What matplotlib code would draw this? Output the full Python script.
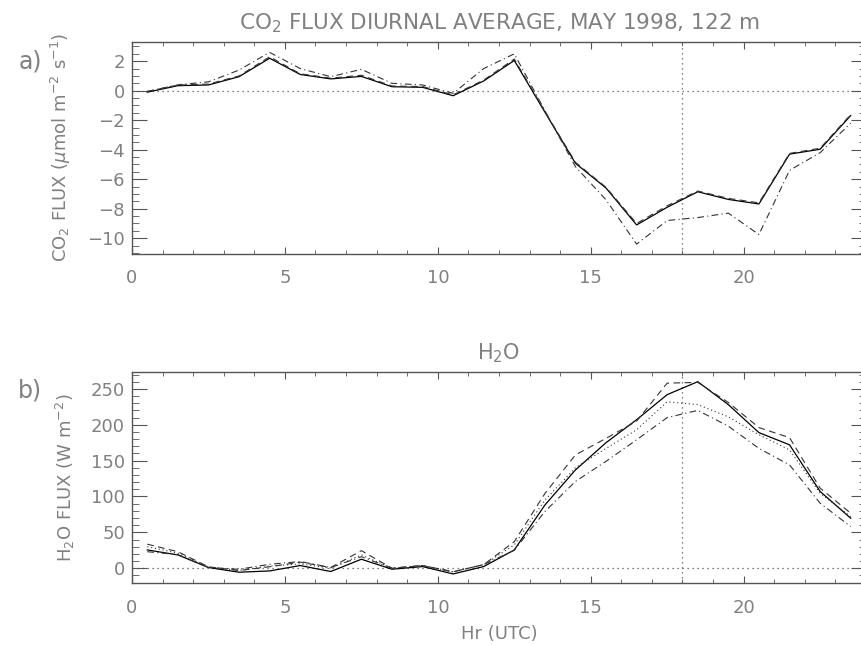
import numpy as np
import matplotlib
matplotlib.use('Agg')
import matplotlib.pyplot as plt
from matplotlib.ticker import MultipleLocator

# hour of day (UTC), centre of each hourly bin
hours = [h + 0.5 for h in range(24)]

# a) CO2 flux, umol m-2 s-1
co2_solid = [-0.1, 0.34, 0.39, 0.95, 2.2, 1.1, 0.8, 0.97, 0.27, 0.23, -0.34, 0.66,
             2.05, -1.45, -4.92, -6.6, -9.1, -7.9, -6.85, -7.37, -7.68, -4.3, -3.97, -1.68]
co2_dash = [-0.05, 0.38, 0.45, 1.0, 2.3, 1.15, 0.85, 1.05, 0.32, 0.28, -0.28, 0.72,
            2.15, -1.4, -4.85, -6.55, -9.0, -7.8, -6.8, -7.3, -7.6, -4.25, -3.9, -1.62]
co2_dashdot = [-0.05, 0.4, 0.6, 1.4, 2.6, 1.5, 0.95, 1.45, 0.5, 0.39, -0.18, 1.5,
               2.5, -1.35, -5.15, -7.4, -10.4, -8.8, -8.6, -8.3, -9.75, -5.4, -4.2, -2.2]

# b) H2O flux, W m-2
h2o_solid = [25.5, 18.5, 1, -5.6, -3.8, 3.7, -4.6, 12.5, -1.4, 2.3, -8, 2.3,
             25.5, 88, 137, 175, 207, 242, 260, 228, 189, 172, 107, 69.7]
h2o_dash = [33.5, 23, 2, -3.3, 2, 8.4, 1, 24.5, 0, 3.7, -5, 5,
            37, 104, 158, 181, 205, 258, 259, 231, 196, 182, 111.6, 76.7]
h2o_dot = [30, 21, 1.5, -3, 3, 6, 0, 18.5, 0, 3.7, -5, 5,
           32.5, 95, 140, 167, 193, 232, 228, 211, 186, 165, 104.6, 72]
h2o_dashdot = [23, 19, 1, -1.5, 5.5, 9.3, 1, 16, 0, 3.7, -5, 5,
               25, 79, 121, 149, 179, 210, 220, 198, 167, 144, 90.6, 58]

TXT = '#808080'
AX = '#555555'
FS = 13

plt.rcParams['font.family'] = 'DejaVu Sans'
plt.rcParams['axes.edgecolor'] = AX
plt.rcParams['axes.linewidth'] = 1.0

fig = plt.figure(figsize=(8.61, 6.45), dpi=100)
ax1 = fig.add_axes([0.1533, 0.6062, 0.8525, 0.3291])
ax2 = fig.add_axes([0.1533, 0.0957, 0.8525, 0.3281])


def style_axis(ax, ymajor, yminor):
    ax.set_xlim(0, 24)
    ax.xaxis.set_major_locator(MultipleLocator(5))
    ax.xaxis.set_minor_locator(MultipleLocator(1))
    ax.yaxis.set_major_locator(MultipleLocator(ymajor))
    ax.yaxis.set_minor_locator(MultipleLocator(yminor))
    ax.tick_params(which='both', direction='in', top=True, right=True,
                   color=AX, labelcolor=TXT, labelsize=FS)
    ax.tick_params(axis='x', which='major', length=5, pad=11)
    ax.tick_params(axis='x', which='minor', length=3)
    ax.tick_params(axis='y', which='major', length=10.5, pad=5)
    ax.tick_params(axis='y', which='minor', length=5)
    # reference lines: zero and 18 UTC
    ax.axhline(0, color=AX, lw=0.9, ls=(0, (1, 3)))
    ax.axvline(18, color=AX, lw=0.9, ls=(0, (1, 3)))


# --- a) CO2 ---
style_axis(ax1, 2, 0.5)
ax1.set_ylim(-11.07, 3.32)
ax1.plot(hours, co2_solid, color='black', lw=0.9)
ax1.plot(hours, co2_dash, color='#333333', lw=0.8, ls=(0, (6, 4)))
ax1.plot(hours, co2_dashdot, color='#333333', lw=0.8, ls=(0, (6, 3, 1, 3)))
ax1.set_title('CO$_2$ FLUX DIURNAL AVERAGE, MAY 1998, 122 m',
              color=TXT, fontsize=15.5, pad=9)
ax1.set_ylabel('CO$_2$ FLUX ($\\mu$mol m$^{-2}$ s$^{-1}$)', color=TXT, fontsize=FS,
               labelpad=10)
fig.text(0.035, 0.905, 'a)', color=TXT, fontsize=17, ha='center', va='center')

# --- b) H2O ---
style_axis(ax2, 50, 10)
ax2.set_ylim(-21, 274)
ax2.plot(hours, h2o_solid, color='black', lw=0.9)
ax2.plot(hours, h2o_dash, color='#333333', lw=0.8, ls=(0, (6, 4)))
ax2.plot(hours, h2o_dot, color='#333333', lw=0.8, ls=(0, (1, 2.5)))
ax2.plot(hours, h2o_dashdot, color='#333333', lw=0.8, ls=(0, (6, 3, 1, 3)))
ax2.set_title('H$_2$O', color=TXT, fontsize=15, pad=9)
ax2.set_ylabel('H$_2$O FLUX (W m$^{-2}$)', color=TXT, fontsize=FS, labelpad=10)
ax2.set_xlabel('Hr (UTC)', color=TXT, fontsize=FS, labelpad=6)
fig.text(0.035, 0.395, 'b)', color=TXT, fontsize=17, ha='center', va='center')

fig.savefig('out.png', dpi=100)
plt.close(fig)
